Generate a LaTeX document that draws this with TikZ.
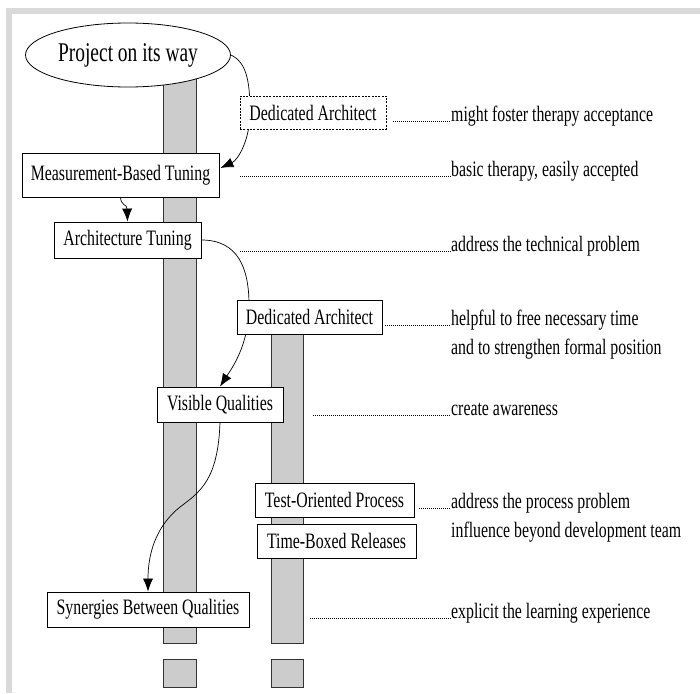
\documentclass[tikz,border=0pt]{standalone}
\usepackage{fontspec}
\setmainfont{Liberation Serif}[FakeStretch=0.72]
\usetikzlibrary{shapes.geometric,arrows.meta,calc}
\pgfdeclarelayer{background}
\pgfsetlayers{background,main}
\definecolor{framegray}{HTML}{D9D9D9}
\definecolor{bargray}{HTML}{CCCCCC}
\definecolor{barline}{HTML}{333333}
\begin{document}
\begin{tikzpicture}[x=1pt,y=-1pt,
  box/.style={draw=black, line width=0.8pt, fill=white, inner sep=0pt,
    font=\fontsize{22}{26}\selectfont},
  dbox/.style={box, dash pattern=on 2pt off 1.3pt},
  txt/.style={anchor=base west, inner sep=0pt, font=\fontsize{22}{26}\selectfont},
  lead/.style={line width=0.6pt, dash pattern=on 1pt off 1pt},
  arr/.style={line width=0.7pt, -{Latex[length=13pt,width=10pt]}},
  bar/.style={fill=bargray, draw=barline, line width=0.7pt}]
\useasboundingbox (0,0) rectangle (700,693);
% frame
\fill[framegray] (6,8) rectangle (700,14);
\fill[framegray] (6,8) rectangle (12,693);

% nodes
\node[ellipse, draw=black, line width=0.8pt, fill=white, inner sep=0pt,
  minimum width=205pt, minimum height=64pt,
  font=\fontsize{27}{30}\selectfont] (ell) at (128,55) {Project on its way};
\node[dbox, minimum width=146pt, minimum height=33pt] (da1) at (313,112.5) {Dedicated Architect};
\node[box, minimum width=197pt, minimum height=44pt] (mbt) at (120.5,175) {Measurement-Based Tuning};
\node[box, minimum width=147pt, minimum height=36pt] (at) at (127.5,240) {Architecture Tuning};
\node[box, minimum width=145pt, minimum height=34pt] (da2) at (309.5,317) {Dedicated Architect};
\node[box, minimum width=126pt, minimum height=35pt] (vq) at (220,404.5) {Visible Qualities};
\node[box, minimum width=159pt, minimum height=34pt] (top) at (334.5,500) {Test-Oriented Process};
\node[box, minimum width=159pt, minimum height=34pt] (tbr) at (336.5,541) {Time-Boxed Releases};
\node[box, minimum width=202pt, minimum height=35pt] (sbq) at (148,609.5) {Synergies Between Qualities};

% texts
\node[txt] (t1) at (451,121) {might foster therapy acceptance};
\node[txt] (t2) at (451,176) {basic therapy, easily accepted};
\node[txt] (t3) at (451,251) {address the technical problem};
\node[txt] (t4) at (451,325) {helpful to free necessary time};
\node[txt] (t4b) at (451,354) {and to strengthen formal position};
\node[txt] (t5) at (451,415) {create awareness};
\node[txt] (t6) at (451,508) {address the process problem};
\node[txt] (t6b) at (451,537) {influence beyond development team};
\node[txt] (t7) at (451,618) {explicit the learning experience};

% leader lines
\coordinate (l1) at (393,121);
\coordinate (l2) at (240,176);
\coordinate (l3) at (240,251);
\coordinate (l4) at (385,325);
\coordinate (l5) at (313,415);
\coordinate (l6) at (419,508);
\coordinate (l7) at (310,618);
\draw[lead] (l1) -- (t1.base west);
\draw[lead] (l2) -- (t2.base west);
\draw[lead] (l3) -- (t3.base west);
\draw[lead] (l4) -- (t4.base west);
\draw[lead] (l5) -- (t5.base west);
\draw[lead] (l6) -- (t6.base west);
\draw[lead] (l7) -- (t7.base west);

\begin{pgfonlayer}{background}
  % bars
  \draw[bar] (163,70) rectangle (196,643);
  \draw[bar] (271,320) rectangle (303,643);
  \draw[bar] (163,659) rectangle (196,687);
  \draw[bar] (271,659) rectangle (303,687);
  % connectors
  \draw[arr] (ell.east) .. controls (246,62) and (250,80) .. (250,112)
     .. controls (250,140) and (238,160) .. ($(mbt.east)+(1,-7)$);
  \draw[arr] (mbt.south) .. controls (121,206) and (127,204) .. (at.north);
  \draw[arr] (at.east) .. controls (238,240) and (249,268) .. (249,305)
     .. controls (249,345) and (232,368) .. (vq.north);
  \draw[arr] (vq.south) .. controls (218,480) and (200,492) .. (180,507)
     .. controls (155,527) and (148,555) .. (sbq.north);
\end{pgfonlayer}
\end{tikzpicture}
\end{document}
